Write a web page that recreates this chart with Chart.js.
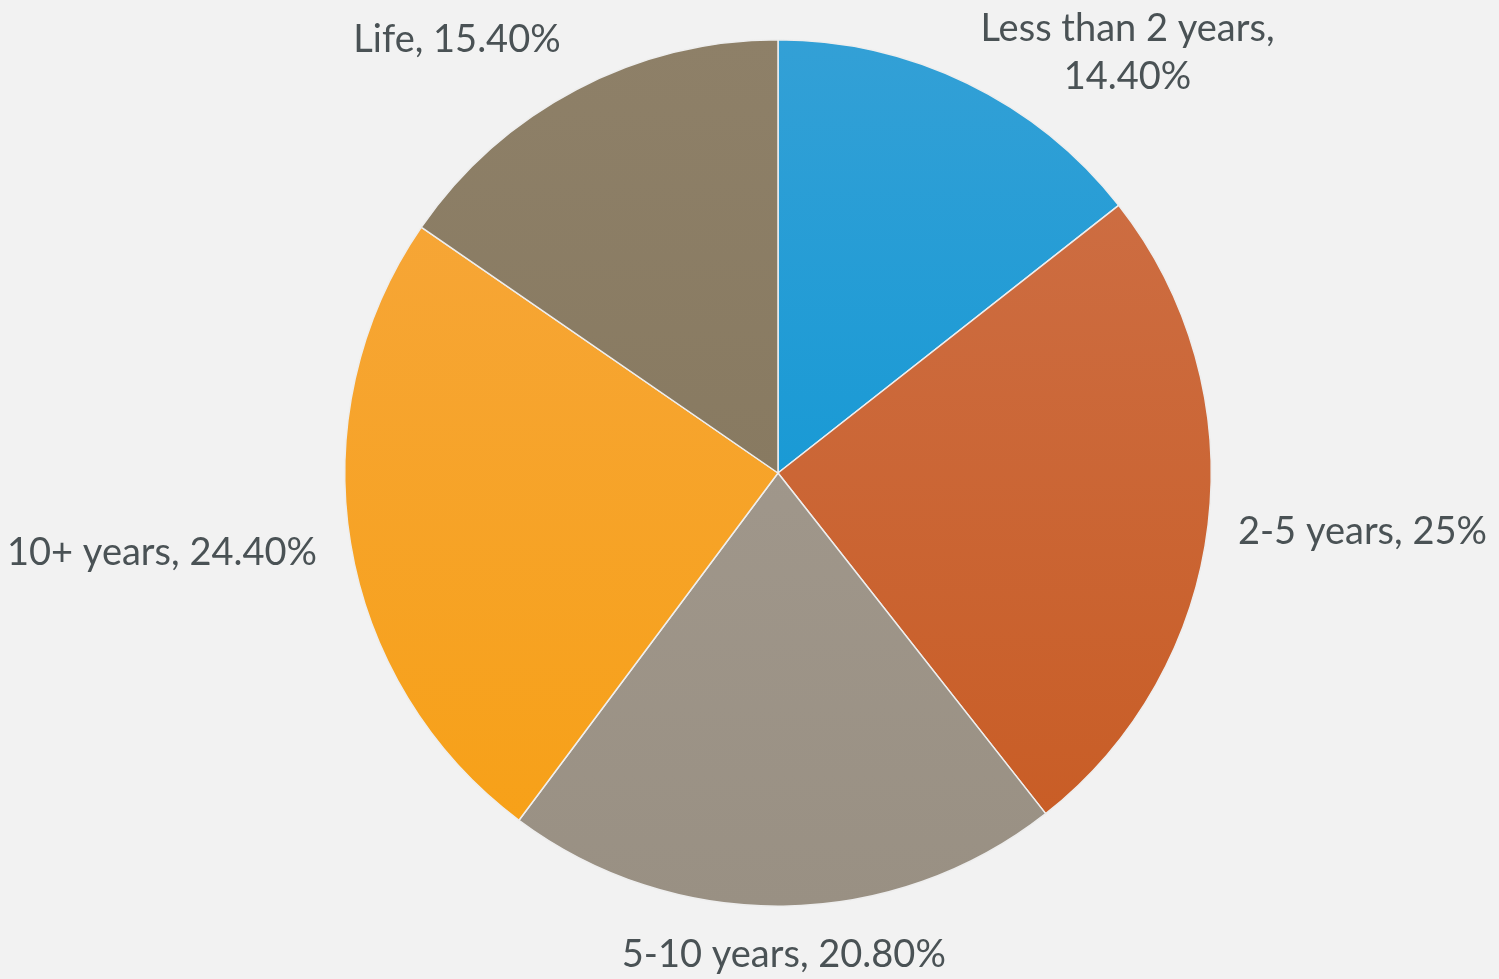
<!DOCTYPE html>
<html>
<head>
<meta charset="utf-8">
<script src="https://cdn.jsdelivr.net/npm/chart.js@4"></script>
<style>
    html, body { margin: 0; padding: 0; background: #f2f2f2; }
    #wrap { width: 1499px; height: 979px; }
</style>
</head>
<body>
<div id="wrap"><canvas id="tenureChart"></canvas></div>
<script>
const categories = ['Less than 2 years', '2-5 years', '5-10 years', '10+ years', 'Life'];
const shares = [14.4, 25, 20.8, 24.4, 15.4];
const shareLabels = ['14.40%', '25%', '20.80%', '24.40%', '15.40%'];
const topColors = ['#33a0d6', '#ce7149', '#a69d92', '#f6a73f', '#8e8068'];
const bottomColors = ['#0094d4', '#c85b22', '#999083', '#f7a014', '#82745a'];

const labelFont = '38px Lato';
const labelColor = '#4a5255';

// gradient fill, lighter at the top of the pie like the original
function sliceFill(ctx) {
    const area = ctx.chart.chartArea;
    if (!area) return topColors[ctx.dataIndex];
    const g = ctx.chart.ctx.createLinearGradient(0, area.top, 0, area.bottom);
    g.addColorStop(0, topColors[ctx.dataIndex]);
    g.addColorStop(1, bottomColors[ctx.dataIndex]);
    return g;
}

// outside labels, anchored at each slice's mid angle
const outsideLabels = {
    id: 'outsideLabels',
    afterDatasetsDraw(chart) {
        const c = chart.ctx;
        const meta = chart.getDatasetMeta(0);
        c.save();
        c.font = labelFont;
        c.fillStyle = labelColor;
        c.textBaseline = 'middle';
        const lineH = 48;
        meta.data.forEach((arc, i) => {
            const mid = (arc.startAngle + arc.endAngle) / 2;
            const cx = Math.cos(mid), cy = Math.sin(mid);
            const r = arc.outerRadius + (cx < -0.3 ? 34 : 30);
            const ax = arc.x + cx * r;
            const ay = arc.y + cy * r;
            let text = categories[i] + ', ' + shareLabels[i];
            let lines = [text];
            if (c.measureText(text).width > 340) {
                lines = [categories[i] + ',', shareLabels[i]];
            }
            const w = Math.max(...lines.map(l => c.measureText(l).width));
            const h = lines.length * lineH;
            let left = cx > 0.3 ? ax : (cx < -0.3 ? ax - w : ax - w / 2);
            let top = cy > 0.3 ? ay : (cy < -0.3 ? ay - h : ay - h / 2);
            top = Math.max(1, Math.min(chart.height - h - 4, top));
            left = Math.max(4, Math.min(chart.width - w - 4, left));
            c.textAlign = 'center';
            lines.forEach((l, k) => {
                c.fillText(l, left + w / 2, top + lineH / 2 + 4 + k * lineH);
            });
        });
        c.restore();
    }
};

new Chart(document.getElementById('tenureChart'), {
    type: 'pie',
    data: {
        labels: categories,
        datasets: [{
            data: shares,
            backgroundColor: sliceFill,
            borderColor: '#eeeeee',
            borderWidth: 1.5
        }]
    },
    options: {
        responsive: true,
        maintainAspectRatio: false,
        animation: false,
        layout: { padding: { left: 344, right: 287, top: 39, bottom: 72 } },
        plugins: {
            legend: { display: false },
            tooltip: { enabled: false }
        }
    },
    plugins: [outsideLabels]
});
</script>
</body>
</html>
